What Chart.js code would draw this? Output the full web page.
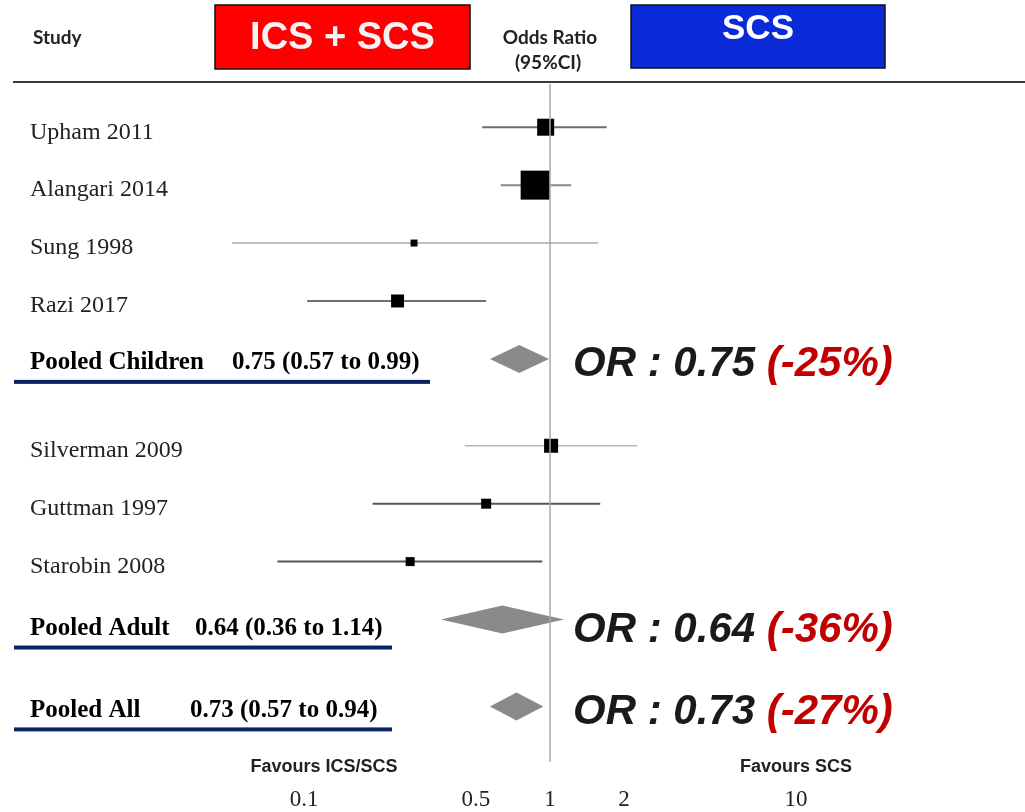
<!DOCTYPE html>
<html>
<head>
<meta charset="utf-8">
<script src="https://cdn.jsdelivr.net/npm/chart.js@4.4.1/dist/chart.umd.min.js"></script>
<style>
  html, body { margin: 0; padding: 0; background: #fff; overflow: hidden; }
  #wrap { width: 1025px; height: 812px; position: relative; }
</style>
</head>
<body>
<div id="wrap"><canvas id="forest"></canvas></div>
<script>
// Individual studies, top to bottom (odds ratio + 95% CI)
const studies = ['Upham 2011', 'Alangari 2014', 'Sung 1998', 'Razi 2017', 'Silverman 2009', 'Guttman 1997', 'Starobin 2008'];
const studyRow = [0, 2, 4, 6, 11, 13, 15];
const studyOR = [0.96, 0.87, 0.28, 0.24, 1.01, 0.55, 0.27];
const studyLo = [0.53, 0.63, 0.051, 0.103, 0.45, 0.19, 0.078];
const studyHi = [1.70, 1.22, 1.57, 0.55, 2.26, 1.60, 0.93];
const studyWeight = [14.3, 41.5, 2.4, 8.3, 9.7, 4.9, 4.0];

// Pooled estimates
const pooled = ['Pooled Children', 'Pooled Adult', 'Pooled All'];
const pooledRow = [8, 17, 20];
const pooledOR = [0.75, 0.64, 0.73];
const pooledLo = [0.57, 0.36, 0.57];
const pooledHi = [0.99, 1.14, 0.94];

const xTicks = [0.1, 0.5, 1, 2, 10];

// styling
const ciColor = ['#6e6e6e', '#8a8a8a', '#ababab', '#707070', '#b8b8b8', '#555555', '#555555'];
const ciWidth = [2, 2, 1.5, 2, 1.5, 2, 2];
const pooledTextX = [232, 195, 190];
const underlineEnd = [430, 392, 392];
const serif = '"Liberation Serif", "Times New Roman", serif';
const sans = '"Liberation Sans", Arial, sans-serif';

const fmt = v => v.toFixed(2);

const ciSets = studies.map((s, i) => ({
  label: s,
  showLine: true,
  data: [{x: studyLo[i], y: studyRow[i]}, {x: studyHi[i], y: studyRow[i]}],
  borderColor: ciColor[i],
  borderWidth: ciWidth[i],
  pointRadius: 0,
  order: 3
}));

const boxSet = {
  label: 'OR',
  data: studies.map((s, i) => ({x: studyOR[i], y: studyRow[i]})),
  pointStyle: 'rect',
  pointRadius: studyWeight.map(w => 4.5 * Math.sqrt(w) / Math.SQRT2),
  backgroundColor: '#000',
  borderWidth: 0,
  order: 2
};

const overlay = {
  id: 'overlay',
  beforeDatasetsDraw(chart) {
    const {ctx, scales: {x, y}} = chart;
    ctx.save();
    pooled.forEach((p, i) => {
      const cy = y.getPixelForValue(pooledRow[i]);
      ctx.beginPath();
      ctx.moveTo(x.getPixelForValue(pooledLo[i]), cy);
      ctx.lineTo(x.getPixelForValue(pooledOR[i]), cy - 14);
      ctx.lineTo(x.getPixelForValue(pooledHi[i]), cy);
      ctx.lineTo(x.getPixelForValue(pooledOR[i]), cy + 14);
      ctx.closePath();
      ctx.fillStyle = '#8a8a8a';
      ctx.fill();
    });
    ctx.restore();
  },
  afterDatasetsDraw(chart) {
    const {ctx, scales: {x}} = chart;
    const x1 = x.getPixelForValue(1);
    ctx.save();
    ctx.strokeStyle = '#a9a9a9';
    ctx.lineWidth = 1.5;
    ctx.beginPath();
    ctx.moveTo(x1, chart.chartArea.top);
    ctx.lineTo(x1, 762);
    ctx.stroke();
    ctx.restore();
  },
  afterDraw(chart) {
    const {ctx, scales: {y}} = chart;
    ctx.save();
    ctx.textBaseline = 'middle';

    // header
    ctx.fillStyle = '#ff0000';
    ctx.fillRect(215, 5, 255, 64);
    ctx.strokeStyle = '#111';
    ctx.lineWidth = 1.5;
    ctx.strokeRect(215, 5, 255, 64);
    ctx.fillStyle = '#0b2bd9';
    ctx.fillRect(631, 5, 254, 63);
    ctx.strokeRect(631, 5, 254, 63);

    ctx.textAlign = 'center';
    ctx.fillStyle = '#f4f4f4';
    ctx.font = 'bold 38px ' + sans;
    ctx.fillText('ICS + SCS', 342.5, 39);
    ctx.fillStyle = '#fff';
    ctx.font = 'bold 35px ' + sans;
    ctx.fillText('SCS', 758, 29);

    ctx.fillStyle = '#222';
    ctx.font = 'bold 19px Lato, "Open Sans", sans-serif';
    ctx.fillText('Odds Ratio', 550, 38);
    ctx.fillText('(95%CI)', 548, 63);
    ctx.textAlign = 'left';
    ctx.fillText('Study', 33, 38);

    ctx.strokeStyle = '#3a3a3a';
    ctx.lineWidth = 2;
    ctx.beginPath();
    ctx.moveTo(13, 82);
    ctx.lineTo(1025, 82);
    ctx.stroke();

    // study labels
    ctx.fillStyle = '#222';
    ctx.font = '24px ' + serif;
    studies.forEach((s, i) => {
      ctx.fillText(s, 30, y.getPixelForValue(studyRow[i]) + 5);
    });

    // pooled labels, underline and OR callouts
    pooled.forEach((p, i) => {
      const cy = y.getPixelForValue(pooledRow[i]) + (i === 1 ? 9 : 4);
      ctx.fillStyle = '#000';
      ctx.font = 'bold 25px ' + serif;
      ctx.fillText(p, 30, cy);
      ctx.fillText(fmt(pooledOR[i]) + ' (' + fmt(pooledLo[i]) + ' to ' + fmt(pooledHi[i]) + ')', pooledTextX[i], cy);
      ctx.fillStyle = '#0b2461';
      ctx.fillRect(14, cy + 17, underlineEnd[i] - 14, 4);

      const head = 'OR : ' + fmt(pooledOR[i]) + ' ';
      const pct = '(' + Math.round((pooledOR[i] - 1) * 100) + '%)';
      ctx.font = 'italic bold 42px ' + sans;
      ctx.fillStyle = '#1a1a1a';
      ctx.fillText(head, 573, cy + 2);
      ctx.fillStyle = '#c00000';
      ctx.fillText(pct, 573 + ctx.measureText(head).width, cy + 2);
    });

    // favours labels
    ctx.textAlign = 'center';
    ctx.fillStyle = '#222';
    ctx.font = 'bold 18px "Liberation Sans Narrow", "Arial Narrow", sans-serif';
    ctx.fillText('Favours ICS/SCS', 324, 767);
    ctx.fillText('Favours SCS', 796, 767);
    ctx.restore();
  }
};

new Chart(document.getElementById('forest'), {
  type: 'scatter',
  data: { datasets: [...ciSets, boxSet] },
  options: {
    responsive: true,
    maintainAspectRatio: false,
    animation: false,
    events: [],
    layout: { autoPadding: false, padding: { top: 84, left: 0, right: 0, bottom: 0 } },
    plugins: { legend: { display: false }, tooltip: { enabled: false } },
    scales: {
      x: {
        type: 'logarithmic',
        bounds: 'data',
        min: 0.005809,
        max: 85.27,
        afterBuildTicks: s => { s.ticks = xTicks.map(v => ({ value: v })); },
        afterFit: s => { s.height = 44; },
        grid: { display: false, drawTicks: false },
        border: { display: false },
        ticks: {
          autoSkip: false,
          maxRotation: 0,
          padding: 18,
          color: '#222',
          font: { family: serif, size: 23 },
          callback: v => String(v)
        }
      },
      y: {
        type: 'linear',
        display: false,
        reverse: true,
        min: -1.492,
        max: 22.127
      }
    }
  },
  plugins: [overlay]
});
</script>
</body>
</html>
